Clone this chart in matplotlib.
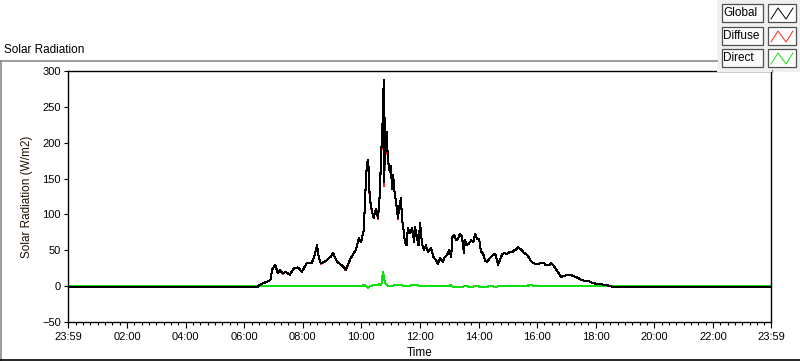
import matplotlib
matplotlib.use("Agg")
import matplotlib.pyplot as plt
from matplotlib.patches import Rectangle
from matplotlib.lines import Line2D
from matplotlib.ticker import FixedLocator, MultipleLocator

plt.rcParams["font.family"] = ["Liberation Sans", "DejaVu Sans"]

W, H = 800, 361

# ------------------------------------------------------------
# data (W/m2)
# ------------------------------------------------------------
TIMES = [
    "00:00", "06:26", "06:34", "06:42", "06:50", "06:54", "06:57", "07:03", "07:09", "07:13",
    "07:19", "07:25", "07:33", "07:42", "07:50", "07:58", "08:08", "08:18", "08:23", "08:29",
    "08:33", "08:37", "08:47", "08:57", "09:02", "09:10", "09:20", "09:28", "09:38", "09:49",
    "09:55", "09:59", "10:05", "10:07", "10:10", "10:13", "10:15", "10:17", "10:22", "10:25",
    "10:30", "10:34", "10:38", "10:40", "10:43", "10:45", "10:46", "10:47", "10:48", "10:50",
    "10:52", "10:54", "10:58", "11:00", "11:03", "11:05", "11:07", "11:11", "11:15", "11:17",
    "11:21", "11:23", "11:27", "11:29", "11:33", "11:35", "11:40", "11:44", "11:48", "11:50",
    "11:54", "11:57", "12:00", "12:02", "12:04", "12:08", "12:12", "12:16", "12:23", "12:27",
    "12:33", "12:37", "12:41", "12:47", "12:51", "12:55", "13:00", "13:04", "13:06", "13:10",
    "13:14", "13:18", "13:22", "13:26", "13:30", "13:32", "13:36", "13:41", "13:45", "13:49",
    "13:53", "13:57", "14:01", "14:05", "14:09", "14:13", "14:17", "14:22", "14:26", "14:30",
    "14:34", "14:37", "14:40", "14:44", "14:48", "14:52", "14:58", "15:05", "15:09", "15:13",
    "15:17", "15:21", "15:25", "15:29", "15:33", "15:37", "15:42", "15:46", "15:50", "15:56",
    "16:02", "16:08", "16:14", "16:18", "16:25", "16:28", "16:33", "16:39", "16:45", "16:49",
    "16:55", "17:01", "17:08", "17:14", "17:22", "17:30", "17:38", "17:47", "17:55", "18:05",
    "18:17", "18:28", "18:38", "23:59",
]
GLOBAL = [
    -1.5, -1.5, 3, 5, 7, 9, 23, 30, 18, 22,
    18, 20, 16, 25, 26, 20, 32, 32, 40, 57,
    39, 32, 35, 41, 46, 34, 29, 23, 39, 51,
    67, 61, 78, 113, 159, 176, 164, 123, 103, 95,
    108, 95, 131, 178, 220, 270, 287, 145, 235, 200,
    215, 178, 159, 168, 136, 155, 136, 117, 95, 108,
    123, 95, 75, 61, 57, 81, 74, 81, 61, 82,
    68, 57, 88, 75, 60, 50, 57, 48, 53, 41,
    36, 31, 39, 34, 41, 43, 50, 41, 68, 71,
    64, 66, 73, 69, 46, 65, 57, 60, 64, 61,
    73, 66, 66, 48, 46, 36, 34, 38, 41, 44,
    45, 38, 30, 37, 44, 46, 45, 48, 47, 50,
    51, 54, 52, 50, 46, 45, 41, 36, 33, 31,
    31, 32, 32, 29, 29, 32, 29, 23, 17, 13,
    14, 16, 16, 14, 12, 9, 7, 6.5, 4, 3,
    2, 0.5, -1.5, -1.5,
]
DIFFUSE = [
    -1.5, -1.5, 3, 5, 7, 9, 23, 30, 18, 22,
    17, 20, 16, 25, 26, 20, 32, 32, 40, 57,
    39, 31, 35, 41, 46, 34, 29, 22, 39, 51,
    67, 61, 78, 113, 158, 176, 164, 121, 103, 95,
    108, 93, 131, 176, 214, 250, 262, 140, 220, 195,
    208, 176, 159, 168, 136, 155, 136, 117, 94, 108,
    123, 95, 75, 61, 57, 81, 74, 81, 61, 82,
    68, 57, 88, 75, 60, 50, 57, 48, 53, 41,
    36, 31, 39, 34, 41, 43, 50, 41, 68, 71,
    64, 66, 73, 69, 46, 65, 57, 60, 64, 61,
    73, 66, 66, 48, 46, 36, 34, 38, 41, 44,
    45, 38, 30, 37, 44, 46, 45, 48, 47, 50,
    51, 54, 52, 50, 46, 45, 41, 36, 33, 31,
    31, 32, 32, 29, 29, 32, 29, 23, 17, 13,
    14, 16, 16, 14, 12, 9, 7, 6.5, 4, 3,
    2, 0.5, -1.5, -1.5,
]
DIRECT_TIMES = [
    "00:00", "10:03", "10:04", "10:07", "10:13", "10:17", "10:24", "10:30", "10:36", "10:40",
    "10:42", "10:44", "10:46", "10:48", "10:52", "10:56", "11:05", "11:07", "11:15", "11:21",
    "11:29", "11:42", "11:50", "12:02", "12:14", "12:35", "13:04", "13:08", "13:20", "13:24",
    "13:32", "13:45", "13:53", "14:01", "14:15", "14:26", "14:36", "14:42", "15:50", "15:54",
    "23:59",
]
DIRECT = [
    0, 0, 1.5, 1, -2, 0, 1, 1.5, 2.5, 2,
    5, 20, 14, 4.5, 1.5, 0, 0, 1.5, 1, 1.5,
    0, 1, 2, 0, 0.5, 0, 1, -1, -1, -1.2,
    0, -1, 0, -0.5, -0.8, 0, -1, 0, 1, 0,
    0,
]

X_TICK_LABELS = ["23:59", "02:00", "04:00", "06:00", "08:00", "10:00", "12:00",
                 "14:00", "16:00", "18:00", "20:00", "22:00", "23:59"]
Y_TICKS = [-50, 0, 50, 100, 150, 200, 250, 300]

LEGEND = [("Global", "black"), ("Diffuse", "#ff2020"), ("Direct", "#10e010")]


def _minutes(t: str) -> int:
    hh, mm = t.split(":")
    return int(hh) * 60 + int(mm)


def _fx(x):
    return x / W


def _fy(y):
    return 1 - y / H


# ------------------------------------------------------------
# figure
# ------------------------------------------------------------
fig = plt.figure(figsize=(W / 100, H / 100), dpi=100)
fig.patch.set_facecolor("white")

ax_l, ax_r, ax_t, ax_b = 68, 771, 71, 322
ax = fig.add_axes([_fx(ax_l), _fy(ax_b), (ax_r - ax_l) / W, (ax_b - ax_t) / H])

gx = [_minutes(t) for t in TIMES]
dx = [_minutes(t) for t in DIRECT_TIMES]
# LabVIEW-style 1px aliased traces
ax.plot(dx, DIRECT, color="#10e010", lw=0.75, antialiased=False, zorder=2)
ax.plot(gx, DIFFUSE, color="#ff2020", lw=0.75, antialiased=False, zorder=3)
ax.plot(gx, GLOBAL, color="black", lw=0.75, antialiased=False, zorder=4)

x_ticks = [_minutes(t) for t in X_TICK_LABELS]
x_ticks[0] -= 1440  # axis starts at 23:59 of the day before
ax.set_xlim(x_ticks[0], x_ticks[-1])
ax.set_ylim(-50, 300)
ax.xaxis.set_major_locator(FixedLocator(x_ticks))
ax.set_xticklabels(X_TICK_LABELS)
ax.xaxis.set_minor_locator(MultipleLocator(15))
ax.set_yticks(Y_TICKS)

for s in ax.spines.values():
    s.set_color("black")
    s.set_linewidth(1.0)

ax.tick_params(axis="x", which="major", length=4.5, width=0.8, pad=2.5,
               labelsize=8, colors="black")
ax.tick_params(axis="x", which="minor", length=2.2, width=0.8)
ax.tick_params(axis="y", which="major", length=3, width=0.8, pad=2,
               labelsize=8, colors="black")

ax.set_xlabel("Time", fontsize=8.5, labelpad=3.5)
ax.set_ylabel("Solar Radiation (W/m2)", fontsize=8.5, color="#201000")
ax.yaxis.set_label_coords((33 - ax_l) / (ax_r - ax_l), 0.5)

# panel frame + caption
fig.add_artist(Line2D([_fx(0), _fx(717)], [_fy(61), _fy(61)], color="#8a8a8a", lw=1.2))
fig.add_artist(Line2D([_fx(0.5), _fx(0.5)], [_fy(61), _fy(361)], color="#8a8a8a", lw=1.2))
fig.add_artist(Line2D([_fx(0), _fx(800)], [_fy(360), _fy(360)], color="black", lw=1.2))
fig.add_artist(Line2D([_fx(772), _fx(772)], [_fy(72), _fy(70)], color="#8a8a8a", lw=1.0))
fig.text(_fx(4), _fy(50), "Solar Radiation", fontsize=8.5, va="center", ha="left")

# legend panel
fig.add_artist(Rectangle((_fx(717), _fy(72)), 83 / W, 72 / H, transform=fig.transFigure,
                         facecolor="#f0f0f0", edgecolor="none"))
box_y = [4, 27, 49]
for (label, color), y0 in zip(LEGEND, box_y):
    y1 = y0 + 18
    fig.add_artist(Rectangle((_fx(722), _fy(y1)), 41 / W, 18 / H, transform=fig.transFigure,
                             facecolor="#fafafa", edgecolor="#505050", lw=0.9))
    fig.text(_fx(723.5), _fy((y0 + y1) / 2), label, fontsize=8.5, va="center", ha="left")
    fig.add_artist(Rectangle((_fx(768), _fy(y1)), 28 / W, 18 / H, transform=fig.transFigure,
                             facecolor="white", edgecolor="#505050", lw=0.9))
    zx = [771, 778, 786, 793]
    zy = [y1 - 3, y0 + 4, y1 - 3, y0 + 4]
    fig.add_artist(Line2D([_fx(v) for v in zx], [_fy(v) for v in zy], color=color, lw=0.7))

fig.savefig("out.png", dpi=100)
